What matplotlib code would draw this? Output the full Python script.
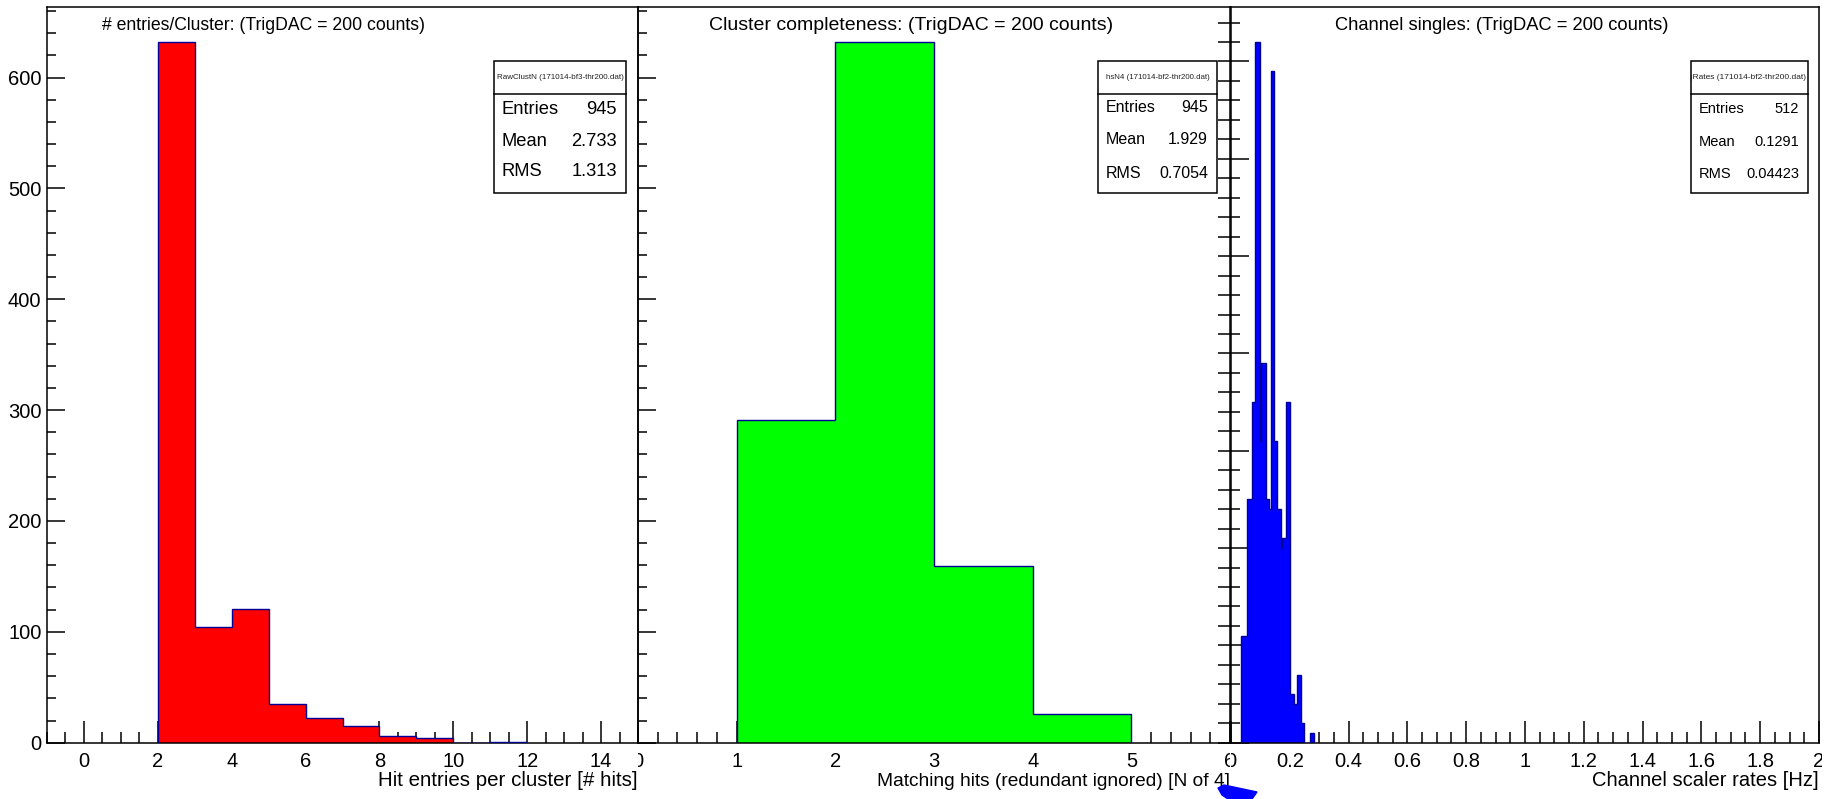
import matplotlib
matplotlib.use("Agg")
import matplotlib.pyplot as plt
from matplotlib.lines import Line2D
from matplotlib.patches import Polygon, Rectangle
from matplotlib.ticker import FuncFormatter, MultipleLocator
from matplotlib.transforms import Bbox, TransformedBbox

W, H = 1833, 799
LINE = "#000099"

# left pad: hit entries per cluster
hits_edges = [2, 3, 4, 5, 6, 7, 8, 9, 10, 11, 12]
hits_counts = [632, 104, 121, 35, 22, 15, 6, 4, 0, 1]
hits_title = "# entries/Cluster: (TrigDAC = 200 counts)"
hits_xlabel = "Hit entries per cluster [# hits]"
hits_header = "RawClustN (171014-bf3-thr200.dat)"
hits_stats = [("Entries", "945"), ("Mean", "2.733"), ("RMS", "1.313")]

# middle pad: cluster completeness
match_edges = [1, 2, 3, 4, 5]
match_counts = [291, 632, 159, 26]
match_title = "Cluster completeness: (TrigDAC = 200 counts)"
match_xlabel = "Matching hits (redundant ignored) [N of 4]"
match_header = "hsN4 (171014-bf2-thr200.dat)"
match_stats = [("Entries", "945"), ("Mean", "1.929"), ("RMS", "0.7054")]

# right pad: channel singles
rate_edges = [0.033, 0.055, 0.072, 0.083, 0.098, 0.103, 0.120, 0.129, 0.135,
              0.146, 0.157, 0.169, 0.175, 0.188, 0.200, 0.214, 0.225, 0.237,
              0.248, 0.268, 0.282]
rate_counts = [11, 25, 35, 72, 31, 39, 25, 24, 69, 31, 24, 20, 21, 35, 5, 4,
               7, 2, 0, 1]
rate_title = "Channel singles: (TrigDAC = 200 counts)"
rate_xlabel = "Channel scaler rates [Hz]"
rate_header = "avgRates (171014-bf2-thr200.dat)"
rate_stats = [("Entries", "512"), ("Mean", "0.1291"), ("RMS", "0.04423")]

FRAME_TOP, FRAME_BOTTOM = 7, 742.7


def fx(x):
    return x / W


def fy(y):
    return 1 - y / H


def make_axes(fig, x0, x1):
    return fig.add_axes([fx(x0), fy(FRAME_BOTTOM), (x1 - x0) / W,
                         (FRAME_BOTTOM - FRAME_TOP) / H])


def draw_hist(ax, edges, counts, fill, xlim, xmaj, xmin, ymaj, ymin, ylabels):
    """ROOT-like filled histogram with inward ticks."""
    ax.stairs(counts, edges, fill=True, color=fill, zorder=2)
    ax.stairs(counts, edges, color=LINE, linewidth=1.0, zorder=3)
    ax.set_xlim(*xlim)
    ax.set_ylim(0, 1.05 * max(counts))
    ax.xaxis.set_major_locator(MultipleLocator(xmaj))
    ax.xaxis.set_minor_locator(MultipleLocator(xmin))
    ax.xaxis.set_major_formatter(FuncFormatter(lambda v, pos: f"{v:g}"))
    ax.yaxis.set_major_locator(MultipleLocator(ymaj))
    ax.yaxis.set_minor_locator(MultipleLocator(ymin))
    ax.tick_params(axis="x", which="major", direction="in", length=16,
                   width=1.1, pad=7, labelsize=14.5)
    ax.tick_params(axis="x", which="minor", direction="in", length=8,
                   width=1.1)
    ax.tick_params(axis="y", which="major", direction="in", length=13,
                   width=1.1, pad=4, labelsize=14.5, labelleft=ylabels)
    ax.tick_params(axis="y", which="minor", direction="in", length=6.5,
                   width=1.1)
    for s in ax.spines.values():
        s.set_linewidth(1.1)
    ax.set_facecolor("none")


def clip_xlabels(fig, ax, x0, x1):
    box = TransformedBbox(Bbox([[fx(x0), 0], [fx(x1), 1]]), fig.transFigure)
    for tick in ax.xaxis.get_major_ticks():
        tick.label1.set_clip_box(box)
        tick.label1.set_clip_on(True)


def set_xlabel(ax, text, size):
    ax.set_xlabel(text, fontsize=size, ha="right", va="center")
    ax.xaxis.set_label_coords(1.0, -(781 - FRAME_BOTTOM) / (FRAME_BOTTOM - FRAME_TOP))


def draw_stats(fig, x0, x1, header, rows, size, head_size, row_y, head_right=False):
    y0, y1, ysep = 61, 193, 93.5
    fig.add_artist(Rectangle((fx(x0), fy(y1)), (x1 - x0) / W, (y1 - y0) / H,
                             transform=fig.transFigure, facecolor="white",
                             edgecolor="black", linewidth=1.1, zorder=5))
    fig.add_artist(Line2D([fx(x0), fx(x1)], [fy(ysep), fy(ysep)],
                          transform=fig.transFigure, color="black",
                          linewidth=1.1, zorder=6))
    if head_right:
        head = fig.text(fx(x1 - 2), fy((y0 + ysep) / 2), header,
                        fontsize=head_size, ha="right", va="center",
                        color="#222222", zorder=7)
    else:
        head = fig.text(fx((x0 + x1) / 2), fy((y0 + ysep) / 2), header,
                        fontsize=head_size, ha="center", va="center",
                        color="#222222", zorder=7)
    head.set_clip_box(TransformedBbox(Bbox([[fx(x0), fy(ysep)], [fx(x1), fy(y0)]]),
                                      fig.transFigure))
    head.set_clip_on(True)
    for (name, value), y in zip(rows, row_y):
        fig.text(fx(x0 + 8), fy(y), name, fontsize=size, ha="left",
                 va="center", zorder=7)
        fig.text(fx(x1 - 9), fy(y), value, fontsize=size, ha="right",
                 va="center", zorder=7)


def main():
    plt.rcParams["font.family"] = ["Liberation Sans", "DejaVu Sans"]
    fig = plt.figure(figsize=(W / 100, H / 100), dpi=100)

    ax1 = make_axes(fig, 47, 638)
    draw_hist(ax1, hits_edges, hits_counts, "#ff0000", (-1, 15), 2, 0.5,
              100, 20, True)
    set_xlabel(ax1, hits_xlabel, 14.8)

    ax2 = make_axes(fig, 638, 1230)
    draw_hist(ax2, match_edges, match_counts, "#00ff00", (0, 6), 1, 0.2,
              100, 20, False)
    set_xlabel(ax2, match_xlabel, 13.8)
    clip_xlabels(fig, ax2, 638, 1230)

    ax3 = make_axes(fig, 1231, 1819)
    draw_hist(ax3, rate_edges, rate_counts, "#0000ff", (0, 2), 0.2, 0.05,
              10, 2, False)
    set_xlabel(ax3, rate_xlabel, 14.5)
    clip_xlabels(fig, ax3, 1231, 1822)
    sec = ax3.secondary_yaxis("left")
    sec.yaxis.set_major_locator(MultipleLocator(10))
    sec.yaxis.set_minor_locator(MultipleLocator(2))
    sec.tick_params(which="both", direction="out", length=9.4, width=1.1,
                    labelleft=False)
    sec.spines["left"].set_visible(False)

    fig.text(fx(264), fy(26), hits_title, fontsize=12.7, ha="center", va="center")
    fig.text(fx(911), fy(26), match_title, fontsize=14, ha="center", va="center")
    fig.text(fx(1502), fy(26), rate_title, fontsize=13.2, ha="center", va="center")

    draw_stats(fig, 494, 626, hits_header, hits_stats, 13.2, 5.8, [110, 141, 172])
    draw_stats(fig, 1098, 1217, match_header, match_stats, 11.5, 5.7, [108, 140, 173])
    draw_stats(fig, 1691, 1808, rate_header, rate_stats, 10.5, 6.0, [109, 142, 174],
               head_right=True)

    # stray blue marker under the middle/right pad boundary
    blob = [(1218, 788), (1224, 785), (1257, 792), (1252, 799), (1228, 799),
            (1222, 795)]
    fig.add_artist(Polygon([(fx(x), fy(y)) for x, y in blob],
                           transform=fig.transFigure, color="#0000ff", zorder=8))

    fig.savefig("out.png", dpi=100)


if __name__ == "__main__":
    main()
